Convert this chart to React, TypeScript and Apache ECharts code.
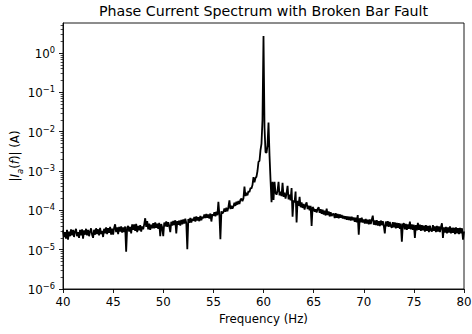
import React, { useEffect, useRef } from "react";
import * as echarts from "echarts";

const TITLE = "Phase Current Spectrum with Broken Bar Fault";
const X_NAME = "Frequency (Hz)";

// Frequency grid of the spectrum (Hz)
const FREQ_START_HZ = 40;
const FREQ_STEP_HZ = 0.1;

// |I_a(f)| in A, one value per 0.1 Hz from 40.0 to 80.0 Hz
const amplitudeA: number[] = [
  3.1e-5, 2.1e-5, 2.8e-5, 1.9e-5, 3.2e-5, 1.8e-5, 2.9e-5, 2.2e-5, 3.3e-5, 2.3e-5,
  3.2e-5, 2.1e-5, 2.9e-5, 3.4e-5, 2.2e-5, 2.8e-5, 2.0e-5, 3.2e-5, 2.3e-5, 3.3e-5,
  1.9e-5, 3.1e-5, 2.4e-5, 3.4e-5, 2.3e-5, 3.2e-5, 2.2e-5, 2.9e-5, 3.5e-5, 2.4e-5,
  2.0e-5, 3.2e-5, 2.4e-5, 3.5e-5, 2.5e-5, 3.3e-5, 2.3e-5, 3.6e-5, 2.5e-5, 3.0e-5,
  2.1e-5, 3.4e-5, 2.6e-5, 3.7e-5, 2.5e-5, 3.5e-5, 2.7e-5, 3.8e-5, 2.4e-5, 3.4e-5,
  2.4e-5, 3.6e-5, 4.4e-5, 2.8e-5, 3.7e-5, 2.5e-5, 3.8e-5, 2.9e-5, 3.9e-5, 2.7e-5,
  3.7e-5, 2.8e-5, 3.9e-5, 0.89e-5, 3.6e-5, 4.0e-5, 2.9e-5, 3.8e-5, 2.6e-5, 4.4e-5,
  3.2e-5, 4.4e-5, 3.0e-5, 4.5e-5, 2.8e-5, 4.0e-5, 3.1e-5, 4.2e-5, 2.9e-5, 3.9e-5,
  3.3e-5, 4.4e-5, 6.3e-5, 3.8e-5, 5.3e-5, 3.3e-5, 4.6e-5, 3.2e-5, 4.3e-5, 3.5e-5,
  4.7e-5, 3.5e-5, 4.9e-5, 3.6e-5, 4.6e-5, 3.4e-5, 4.8e-5, 2.2e-5, 4.5e-5, 3.6e-5,
  2.2e-5, 4.9e-5, 3.9e-5, 5.2e-5, 3.8e-5, 5.0e-5, 4.0e-5, 2.8e-5, 5.1e-5, 4.1e-5,
  5.4e-5, 4.2e-5, 5.6e-5, 2.6e-5, 5.3e-5, 4.3e-5, 5.5e-5, 4.1e-5, 5.7e-5, 4.4e-5,
  5.9e-5, 4.6e-5, 6.1e-5, 4.7e-5, 1.02e-5, 6.0e-5, 4.8e-5, 6.4e-5, 4.9e-5, 6.1e-5,
  5.4e-5, 6.8e-5, 5.2e-5, 7.0e-5, 5.5e-5, 6.7e-5, 5.3e-5, 7.2e-5, 5.6e-5, 6.9e-5,
  6.3e-5, 7.9e-5, 6.4e-5, 8.1e-5, 6.5e-5, 7.8e-5, 6.2e-5, 8.3e-5, 5.2e-5, 8.0e-5,
  7.3e-5, 9.0e-5, 7.1e-5, 9.2e-5, 7.5e-5, 1.65e-4, 7.8e-5, 1.85e-5, 9.4e-5, 8.4e-5,
  9.0e-5, 1.12e-4, 9.2e-5, 1.16e-4, 9.5e-5, 1.2e-4, 1.8e-4, 1.08e-4, 1.3e-4, 1.1e-4,
  1.26e-4, 1.56e-4, 1.3e-4, 1.65e-4, 1.4e-4, 1.72e-4, 1.45e-4, 1.86e-4, 2.0e-4, 1.72e-4,
  2.0e-4, 4.0e-4, 2.3e-4, 2.8e-4, 2.4e-4, 3.1e-4, 2.9e-4, 3.7e-4, 3.6e-4, 4.4e-4,
  7.0e-4, 5.2e-4, 6.6e-4, 7.2e-4, 1.0e-3, 1.7e-3, 1.8e-3, 3.4e-3, 5.0e-3, 2.0e-2,
  2.7, 1.3e-2, 3.0e-3, 2.9e-3, 4.5e-3, 1.7e-2, 2.5e-3, 6.0e-4, 1.6e-4, 5.3e-4,
  1.85e-4, 5.3e-4, 2.8e-4, 2.5e-4, 3.1e-4, 5.3e-4, 2.4e-4, 3.0e-4, 2.3e-4, 5.0e-4,
  2.2e-4, 2.8e-4, 2.0e-4, 2.7e-4, 4.2e-4, 1.9e-4, 2.5e-4, 1.8e-4, 3.7e-4, 6.9e-5,
  1.8e-4, 1.6e-4, 3.0e-4, 4.9e-5, 1.75e-4, 1.3e-4, 2.2e-4, 1.2e-4, 1.6e-4, 1.15e-4,
  1.45e-4, 1.05e-4, 1.38e-4, 1.6e-4, 1.08e-4, 1.32e-4, 1.0e-4, 1.3e-4, 4.0e-5, 1.22e-4,
  1.1e-4, 9.2e-5, 1.06e-4, 8.8e-5, 1.08e-4, 1.2e-4, 8.7e-5, 1.07e-4, 8.2e-5, 1.04e-4,
  7.8e-5, 9.8e-5, 7.4e-5, 1.1e-4, 7.6e-5, 9.4e-5, 7.0e-5, 9.0e-5, 7.2e-5, 8.0e-5,
  8.2e-5, 6.4e-5, 8.5e-5, 6.5e-5, 8.1e-5, 6.3e-5, 7.9e-5, 6.5e-5, 7.6e-5, 6.2e-5,
  7.2e-5, 6.0e-5, 7.1e-5, 5.8e-5, 7.0e-5, 5.7e-5, 6.9e-5, 5.5e-5, 6.9e-5, 5.6e-5,
  6.6e-5, 5.1e-5, 6.5e-5, 5.0e-5, 7.6e-5, 2.4e-5, 6.3e-5, 5.0e-5, 6.5e-5, 4.9e-5,
  5.9e-5, 4.6e-5, 6.0e-5, 4.6e-5, 5.8e-5, 4.4e-5, 5.9e-5, 4.5e-5, 5.8e-5, 7.3e-5,
  4.3e-5, 5.5e-5, 4.2e-5, 5.6e-5, 4.1e-5, 5.3e-5, 4.0e-5, 5.5e-5, 4.2e-5, 5.3e-5,
  4.0e-5, 2.6e-5, 5.2e-5, 3.9e-5, 5.3e-5, 3.8e-5, 5.1e-5, 4.0e-5, 3.6e-5, 5.0e-5,
  3.7e-5, 4.9e-5, 3.5e-5, 4.8e-5, 3.6e-5, 4.7e-5, 3.4e-5, 4.6e-5, 1.6e-5, 4.4e-5,
  4.7e-5, 3.3e-5, 4.5e-5, 3.2e-5, 4.4e-5, 3.4e-5, 5.2e-5, 3.3e-5, 4.4e-5, 3.2e-5,
  4.3e-5, 2.0e-5, 4.2e-5, 3.1e-5, 4.8e-5, 3.2e-5, 4.3e-5, 3.0e-5, 4.2e-5, 3.1e-5,
  4.1e-5, 2.9e-5, 4.2e-5, 3.0e-5, 4.0e-5, 2.8e-5, 4.1e-5, 3.1e-5, 2.9e-5, 4.2e-5,
  3.0e-5, 3.9e-5, 2.8e-5, 4.0e-5, 2.9e-5, 3.9e-5, 2.8e-5, 3.8e-5, 4.7e-5, 2.0e-5,
  3.7e-5, 2.7e-5, 3.8e-5, 2.6e-5, 3.7e-5, 2.7e-5, 3.9e-5, 2.6e-5, 3.6e-5, 2.7e-5,
  3.6e-5, 2.5e-5, 3.7e-5, 2.6e-5, 3.5e-5, 2.5e-5, 3.6e-5, 2.6e-5, 3.5e-5, 1.8e-5,
  2.9e-5,
];

const X_MIN = 40;
const X_MAX = 80;
const X_INTERVAL = 5;
const Y_MIN = 1e-6;
const Y_MAX = 5.8;
const yMajorTicks = [1e-6, 1e-5, 1e-4, 1e-3, 1e-2, 1e-1, 1];
const yMinorMultipliers = [2, 3, 4, 5, 6, 7, 8, 9];

const FONT = "DejaVu Sans";

export default function App() {
  const ref = useRef<HTMLDivElement>(null);
  useEffect(() => {
    if (!ref.current) return;
    const chart = echarts.init(ref.current, null, { renderer: "svg" });
    const data = amplitudeA.map((v, i) => [
      Math.round((FREQ_START_HZ + i * FREQ_STEP_HZ) * 10) / 10,
      v,
    ]);
    const minorTicks: number[] = [];
    yMajorTicks.forEach((d) => {
      yMinorMultipliers.forEach((m) => {
        const v = m * d;
        if (v < Y_MAX) minorTicks.push(v);
      });
    });
    const supLabel = (value: number) => {
      const e = Math.round(Math.log10(value));
      const s = e < 0 ? "\u2212" + String(-e) : String(e);
      return `{b|10}{e|${s}}`;
    };
    chart.setOption({
      animation: false,
      backgroundColor: "#ffffff",
      title: {
        text: TITLE,
        left: 263.5,
        top: 4,
        textAlign: "center",
        padding: 0,
        textStyle: {
          fontFamily: FONT,
          fontSize: 14.2,
          fontWeight: "normal",
          color: "#000",
        },
      },
      grid: {
        left: 63,
        right: 8,
        top: 23,
        bottom: 45,
        containLabel: false,
        outerBoundsMode: "none",
        show: true,
        borderColor: "#000",
        borderWidth: 0.9,
        backgroundColor: "transparent",
      },
      xAxis: {
        type: "value",
        min: X_MIN,
        max: X_MAX,
        interval: X_INTERVAL,
        name: X_NAME,
        nameLocation: "middle",
        nameGap: 24,
        nameMoveOverlap: false,
        nameTextStyle: { fontFamily: FONT, fontSize: 11.8, color: "#000" },
        axisLine: { show: true, onZero: false, lineStyle: { color: "#000", width: 0.9 } },
        axisTick: { show: true, inside: false, length: 4, lineStyle: { color: "#000", width: 0.9 } },
        axisLabel: { fontFamily: FONT, fontSize: 11.8, color: "#000", margin: 7 },
        splitLine: { show: false },
      },
      yAxis: [
        {
          type: "log",
          logBase: 10,
          min: Y_MIN,
          max: Y_MAX,
          name: "{t||}{i|I}{s|a}{t|(}{i|f}{t|)| (A)}",
          nameLocation: "middle",
          nameGap: 39,
          nameRotate: 90,
          nameMoveOverlap: false,
          nameTextStyle: {
            rich: {
              t: { fontFamily: FONT, fontSize: 11.8, color: "#000", lineHeight: 15, verticalAlign: "top" },
              i: { fontFamily: FONT, fontSize: 11.8, fontStyle: "italic", color: "#000", lineHeight: 15, verticalAlign: "top" },
              s: { fontFamily: FONT, fontSize: 8.5, fontStyle: "italic", color: "#000", verticalAlign: "bottom" },
            },
          },
          axisLine: { show: true, lineStyle: { color: "#000", width: 0.9 } },
          axisTick: {
            show: true,
            inside: false,
            length: 4,
            customValues: yMajorTicks,
            lineStyle: { color: "#000", width: 0.9 },
          },
          axisLabel: {
            customValues: yMajorTicks,
            margin: 8,
            formatter: supLabel,
            rich: {
              b: { fontFamily: FONT, fontSize: 11.8, color: "#000", lineHeight: 14, verticalAlign: "bottom" },
              e: { fontFamily: FONT, fontSize: 8.3, color: "#000", verticalAlign: "top" },
            },
          },
          splitLine: { show: false },
          minorTick: { show: false },
        },
        {
          type: "log",
          logBase: 10,
          min: Y_MIN,
          max: Y_MAX,
          position: "left",
          axisLine: { show: false },
          axisLabel: { show: false, customValues: minorTicks },
          axisTick: {
            show: true,
            inside: false,
            length: 2.4,
            customValues: minorTicks,
            lineStyle: { color: "#000", width: 0.7 },
          },
          splitLine: { show: false },
        },
      ],
      series: [
        {
          type: "line",
          data,
          xAxisIndex: 0,
          yAxisIndex: 0,
          showSymbol: false,
          symbol: "none",
          lineStyle: { color: "#000", width: 1.8 },
          silent: true,
          clip: true,
        },
      ],
    });
    return () => chart.dispose();
  }, []);
  return (
    <div
      ref={ref}
      style={{ position: "fixed", left: 0, top: 0, width: 472, height: 334, background: "#fff" }}
    />
  );
}
